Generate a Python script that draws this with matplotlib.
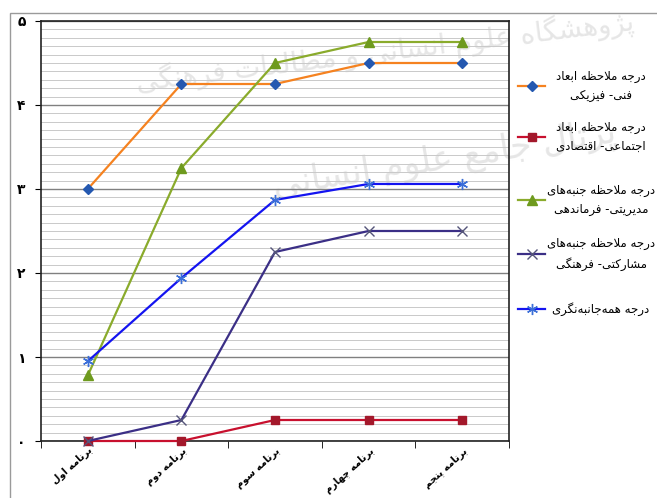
import matplotlib
matplotlib.use('Agg')
import matplotlib.pyplot as plt
from matplotlib.lines import Line2D
from matplotlib.patches import Rectangle
from matplotlib.ticker import MultipleLocator

# --- data ---
categories = ['برنامه اول', 'برنامه دوم', 'برنامه سوم', 'برنامه چهارم', 'برنامه پنجم']
physical = [3.0, 4.25, 4.25, 4.5, 4.5]
socio_economic = [0.0, 0.0, 0.25, 0.25, 0.25]
management = [0.78, 3.25, 4.5, 4.75, 4.75]
participation = [0.0, 0.25, 2.25, 2.5, 2.5]
comprehensive = [0.95, 1.94, 2.87, 3.06, 3.06]
y_ticks = [0, 1, 2, 3, 4, 5]
y_labels = ['۰', '۱', '۲', '۳', '۴', '۵']
legend_labels = [
    'درجه ملاحظه ابعاد\nفنی- فیزیکی',
    'درجه ملاحظه ابعاد\nاجتماعی- اقتصادی',
    'درجه ملاحظه جنبه\u200cهای\nمدیریتی- فرماندهی',
    'درجه ملاحظه جنبه\u200cهای\nمشارکتی- فرهنگی',
    'درجه همه\u200cجانبه\u200cنگری',
]
watermark_top = 'پژوهشگاه علوم انسانی و مطالعات فرهنگی'
watermark_mid = 'پرتال جامع علوم انسانی'

# matplotlib has no arabic shaping, so map letters to presentation forms
# (isolated, final, initial, medial); two entries = joins only to the right
FORMS = {
    'ا': 'ﺍﺎ', 'د': 'ﺩﺪ', 'ر': 'ﺭﺮ', 'ز': 'ﺯﺰ', 'ژ': 'ﮊﮋ', 'و': 'ﻭﻮ',
    'ب': 'ﺏﺐﺑﺒ', 'ت': 'ﺕﺖﺗﺘ', 'ج': 'ﺝﺞﺟﺠ', 'ح': 'ﺡﺢﺣﺤ',
    'س': 'ﺱﺲﺳﺴ', 'ش': 'ﺵﺶﺷﺸ', 'ص': 'ﺹﺺﺻﺼ', 'ط': 'ﻁﻂﻃﻄ', 'ظ': 'ﻅﻆﻇﻈ',
    'ع': 'ﻉﻊﻋﻌ', 'ف': 'ﻑﻒﻓﻔ', 'ق': 'ﻕﻖﻗﻘ', 'ل': 'ﻝﻞﻟﻠ',
    'م': 'ﻡﻢﻣﻤ', 'ن': 'ﻥﻦﻧﻨ', 'ه': 'ﻩﻪﻫﻬ',
    'پ': 'ﭖﭗﭘﭙ', 'چ': 'ﭺﭻﭼﭽ', 'ک': 'ﮎﮏﮐﮑ', 'گ': 'ﮒﮓﮔﮕ', 'ی': 'ﯼﯽﯾﯿ',
}


def shape_line(s):
    out = []
    i = 0
    while i < len(s):
        c = s[i]
        if c not in FORMS:
            if c != '\u200c':
                out.append(c)
            i += 1
            continue
        prev = s[i - 1] if i > 0 else ''
        joins_prev = prev in FORMS and len(FORMS[prev]) == 4
        if c == 'ل' and i + 1 < len(s) and s[i + 1] == 'ا':
            out.append('ﻼ' if joins_prev else 'ﻻ')
            i += 2
            continue
        nxt = s[i + 1] if i + 1 < len(s) else ''
        joins_next = len(FORMS[c]) == 4 and nxt in FORMS
        f = FORMS[c]
        if joins_prev and joins_next:
            out.append(f[3])
        elif joins_prev:
            out.append(f[1])
        elif joins_next:
            out.append(f[2])
        else:
            out.append(f[0])
        i += 1
    return ''.join(out)[::-1]


def fa(s):
    return '\n'.join(shape_line(line) for line in s.split('\n'))


W, H = 657, 498
fig = plt.figure(figsize=(W / 100, H / 100), dpi=100)
fig.patches.append(Rectangle((10 / W, -0.1), 1.0, 1.1 - 13 / H, transform=fig.transFigure,
                             fill=False, edgecolor='#9a9a9a', linewidth=1))

# faint scan watermark behind the chart
fig.text(385 / W, 1 - 52 / H, fa(watermark_top), ha='center', va='center', rotation=7,
         fontsize=20, color='#e6e6e6', zorder=-5)
fig.text(445 / W, 1 - 160 / H, fa(watermark_mid), ha='center', va='center', rotation=9,
         fontsize=25, color='#e6e6e6', zorder=-5)

ax = fig.add_axes([41 / W, 1 - 441 / H, (509 - 41) / W, (441 - 21) / H])
ax.set_facecolor('none')
x = list(range(1, len(categories) + 1))

series = [
    (physical, '#f58220', dict(marker='D', markersize=5.5, markerfacecolor='#2458b0', markeredgecolor='#2458b0')),
    (socio_economic, '#c8102e', dict(marker='s', markersize=6, markerfacecolor='#a3182b', markeredgecolor='#a3182b')),
    (management, '#8aab2c', dict(marker='^', markersize=6.5, markerfacecolor='#6e9a1e', markeredgecolor='#6e9a1e')),
    (participation, '#3b2f86', dict(marker='x', markersize=7, markeredgecolor='#55557a', markeredgewidth=1)),
    (comprehensive, '#1414f0', dict(marker=(6, 2, 0), markersize=8, markeredgecolor='#3b6fd8', markeredgewidth=1)),
]
handles = []
for vals, col, mk in series:
    ax.plot(x, vals, color=col, linewidth=1.6, zorder=3, clip_on=False, **mk)
    handles.append((col, mk))

ax.set_xlim(0.5, len(categories) + 0.5)
ax.set_ylim(0, 5)
ax.yaxis.set_minor_locator(MultipleLocator(0.1))
ax.grid(which='major', axis='y', color='#808080', linewidth=1)
ax.grid(which='minor', axis='y', color='#c9c9c9', linewidth=0.7)
ax.set_axisbelow(True)
for sp in ax.spines.values():
    sp.set_color('#222222')
    sp.set_linewidth(1.2)

ax.set_yticks(y_ticks)
ax.set_yticklabels([fa(t) for t in y_labels], fontsize=10, fontweight='bold')
ax.tick_params(axis='y', which='major', length=4, pad=7)
ax.tick_params(axis='y', which='minor', length=0)

ax.set_xticks([v + 0.5 for v in range(len(categories) + 1)], minor=True)
ax.set_xticks(x)
ax.set_xticklabels([fa(c) for c in categories], fontsize=7, fontweight='bold',
                   rotation=42, ha='right', va='top', rotation_mode='anchor')
ax.tick_params(axis='x', which='major', length=0, pad=3)
ax.tick_params(axis='x', which='minor', length=5)

# legend drawn by hand, sample on the left and centred persian text
legend_y = [86, 137, 200, 254, 309]
for (col, mk), lab, yy in zip(handles, legend_labels, legend_y):
    fy = 1 - yy / H
    fig.add_artist(Line2D([518 / W, 545 / W], [fy, fy], transform=fig.transFigure,
                          color=col, linewidth=1.6))
    fig.add_artist(Line2D([531.5 / W], [fy], transform=fig.transFigure, color=col, **mk))
    fig.text(601 / W, fy, fa(lab), ha='center', va='center', multialignment='center',
             fontsize=8.5, linespacing=1.6)

fig.savefig('out.png', dpi=100)
